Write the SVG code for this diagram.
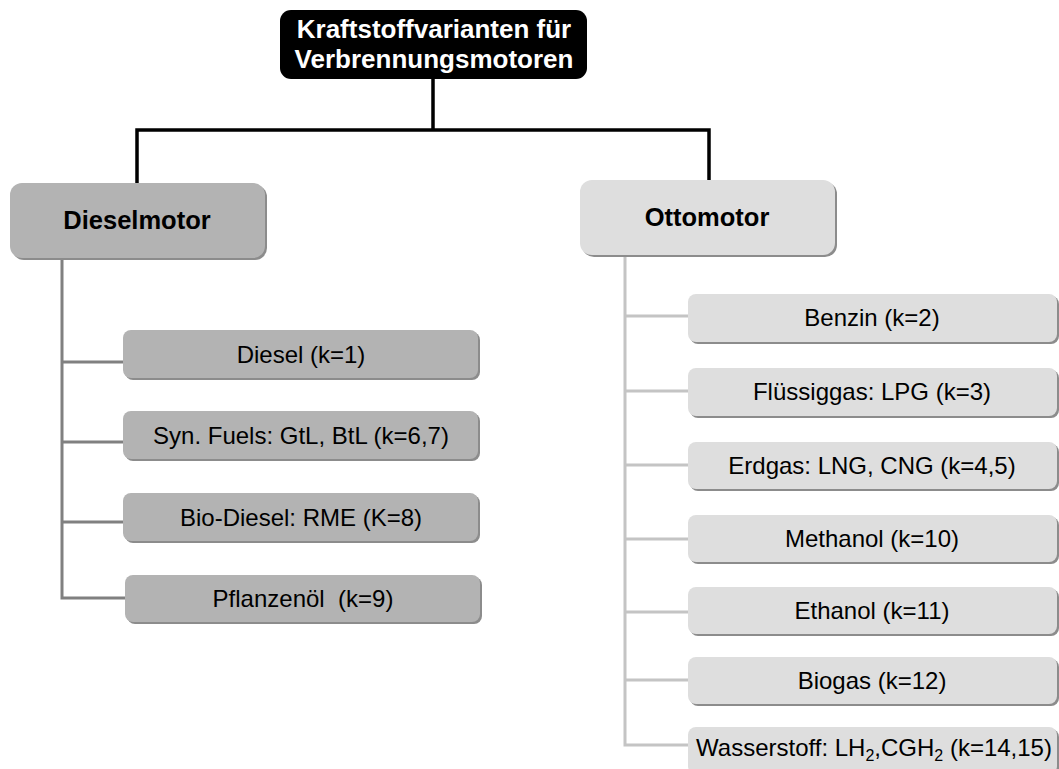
<svg xmlns="http://www.w3.org/2000/svg" width="1059" height="769" viewBox="0 0 1059 769">
<style>
.t{font-family:"Liberation Sans",Arial,sans-serif;font-size:24px;fill:#000;text-anchor:middle}
.b{font-weight:bold;font-size:25.5px}
.w{fill:#fff;font-size:26px}
.sh{fill:#8c8c8c}
.dk{fill:#b3b3b3}
.lt{fill:#dedede}
.cb{fill:none;stroke:#000;stroke-width:3.5}
.cd{fill:none;stroke:#808080;stroke-width:3}
.cl{fill:none;stroke:#c4c4c4;stroke-width:3}
</style>
<rect width="1059" height="769" fill="#fff"/>
<g id="connectors">
<path class="cb" d="M433 79 V130 M137 183 V130 H709 V180"/>
<path class="cd" d="M62 258 V598 H125 M62 362 H123 M62 442 H123 M62 522 H123"/>
<path class="cl" d="M625 255 V745 H688 M625 316 H688 M625 391 H688 M625 465 H688 M625 539 H688 M625 612 H688 M625 680 H688"/>
</g>
<g id="root">
<rect x="280" y="10" width="307" height="69" rx="11" fill="#000"/>
<text class="t b w" x="434" y="38">Kraftstoffvarianten für</text>
<text class="t b w" x="434" y="68">Verbrennungsmotoren</text>
</g>
<g id="dieselmotor">
<rect class="sh" x="12" y="185" width="255" height="75" rx="12"/>
<rect class="dk" x="10" y="183" width="255" height="75" rx="12"/>
<text class="t b" x="137" y="229">Dieselmotor</text>
</g>
<g id="ottomotor">
<rect class="sh" x="582" y="182" width="255" height="75" rx="12"/>
<rect class="lt" x="580" y="180" width="255" height="75" rx="12"/>
<text class="t b" x="707" y="226">Ottomotor</text>
</g>
<g id="diesel">
<rect class="sh" x="125" y="332" width="355" height="48" rx="8"/>
<rect class="dk" x="123" y="330" width="355" height="48" rx="8"/>
<text class="t" x="301" y="363">Diesel (k=1)</text>
</g>
<g id="synfuels">
<rect class="sh" x="125" y="413" width="355" height="48" rx="8"/>
<rect class="dk" x="123" y="411" width="355" height="48" rx="8"/>
<text class="t" x="301" y="444">Syn. Fuels: GtL, BtL (k=6,7)</text>
</g>
<g id="biodiesel">
<rect class="sh" x="125" y="495" width="355" height="48" rx="8"/>
<rect class="dk" x="123" y="493" width="355" height="48" rx="8"/>
<text class="t" x="301" y="526">Bio-Diesel: RME (K=8)</text>
</g>
<g id="pflanzenoel">
<rect class="sh" x="127" y="577" width="355" height="47" rx="8"/>
<rect class="dk" x="125" y="575" width="355" height="47" rx="8"/>
<text class="t" x="303" y="607" xml:space="preserve">Pflanzenöl  (k=9)</text>
</g>
<g id="benzin">
<rect class="sh" x="690" y="296" width="369" height="48" rx="8"/>
<rect class="lt" x="688" y="294" width="369" height="48" rx="8"/>
<text class="t" x="872" y="326">Benzin (k=2)</text>
</g>
<g id="fluessiggas">
<rect class="sh" x="690" y="370" width="369" height="48" rx="8"/>
<rect class="lt" x="688" y="368" width="369" height="48" rx="8"/>
<text class="t" x="872" y="400">Flüssiggas: LPG (k=3)</text>
</g>
<g id="erdgas">
<rect class="sh" x="690" y="444" width="369" height="47" rx="8"/>
<rect class="lt" x="688" y="442" width="369" height="47" rx="8"/>
<text class="t" x="872" y="474">Erdgas: LNG, CNG (k=4,5)</text>
</g>
<g id="methanol">
<rect class="sh" x="690" y="517" width="369" height="47" rx="8"/>
<rect class="lt" x="688" y="515" width="369" height="47" rx="8"/>
<text class="t" x="872" y="547">Methanol (k=10)</text>
</g>
<g id="ethanol">
<rect class="sh" x="690" y="589" width="369" height="47" rx="8"/>
<rect class="lt" x="688" y="587" width="369" height="47" rx="8"/>
<text class="t" x="872" y="619">Ethanol (k=11)</text>
</g>
<g id="biogas">
<rect class="sh" x="690" y="659" width="369" height="47" rx="8"/>
<rect class="lt" x="688" y="657" width="369" height="47" rx="8"/>
<text class="t" x="872" y="689">Biogas (k=12)</text>
</g>
<g id="wasserstoff">
<rect class="sh" x="690" y="729" width="369" height="47" rx="8"/>
<rect class="lt" x="688" y="727" width="369" height="47" rx="8"/>
<text class="t" x="874" y="756">Wasserstoff: LH<tspan font-size="16" dy="5">2</tspan><tspan dy="-5">,CGH</tspan><tspan font-size="16" dy="5">2</tspan><tspan dy="-5"> (k=14,15)</tspan></text>
</g>
</svg>
